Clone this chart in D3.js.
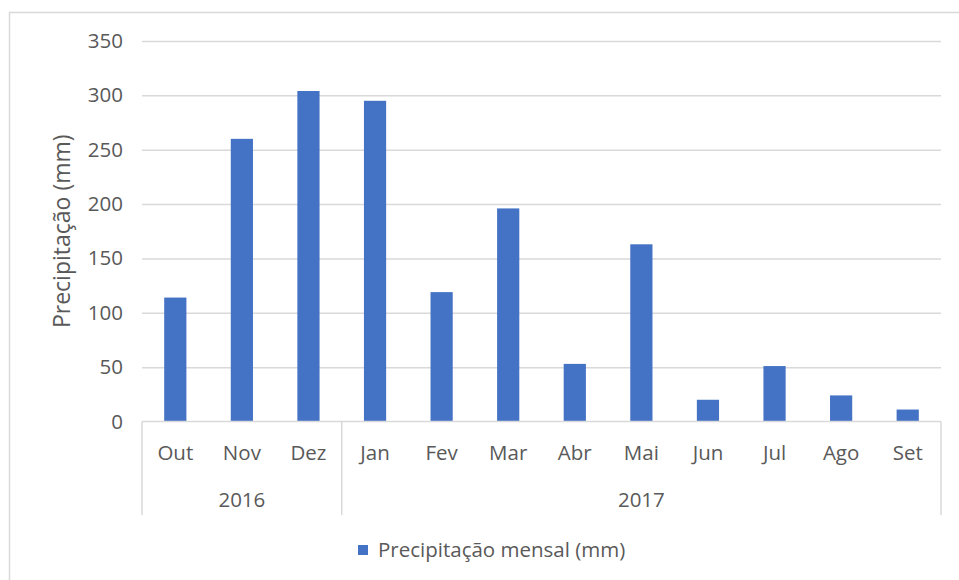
<!DOCTYPE html>
<html>
<head>
<meta charset="utf-8">
<script src="https://cdn.jsdelivr.net/npm/d3@7"></script>
<style>
    body { margin: 0; background: #fff; }
    text { font-family: "Open Sans", "Noto Sans", sans-serif; fill: #595959; }
</style>
</head>
<body>
<div id="chart"></div>
<script>
const months = ["Out", "Nov", "Dez", "Jan", "Fev", "Mar", "Abr", "Mai", "Jun", "Jul", "Ago", "Set"];
const years = [
    { label: "2016", first: "Out", last: "Dez" },
    { label: "2017", first: "Jan", last: "Set" }
];
const precip = [114, 260, 304, 295, 119, 196, 53, 163, 20, 51, 24, 11];
const yTicks = [0, 50, 100, 150, 200, 250, 300, 350];
const seriesName = "Precipitação mensal (mm)";
const yTitle = "Precipitação (mm)";

const width = 959;
const height = 580;
const plotLeft = 142, plotRight = 941, plotTop = 41, plotBottom = 421.5;
const fontSize = 20.5;

const svg = d3.select("#chart")
    .append("svg")
    .attr("width", width)
    .attr("height", height);

// outer chart frame
svg.append("rect")
    .attr("x", 9.5).attr("y", 12.5)
    .attr("width", 970).attr("height", 600)
    .attr("fill", "none")
    .attr("stroke", "#d9d9d9")
    .attr("stroke-width", 1.5);

const x = d3.scaleBand()
    .domain(months)
    .range([plotLeft, plotRight])
    .paddingInner(2 / 3)
    .paddingOuter(1 / 3);

const y = d3.scaleLinear()
    .domain([0, 350])
    .range([plotBottom, plotTop]);

// gridlines + y labels
const yAxis = svg.append("g")
    .attr("transform", "translate(" + plotLeft + ",0)")
    .call(d3.axisLeft(y).tickValues(yTicks).tickSize(-(plotRight - plotLeft)).tickPadding(19));
yAxis.select(".domain").remove();
yAxis.selectAll(".tick line")
    .attr("stroke", d => d === 0 ? "none" : "#d9d9d9")
    .attr("stroke-width", 1.5);
yAxis.selectAll(".tick text")
    .attr("font-size", fontSize)
    .attr("fill", "#595959")
    .style("font-family", "'Open Sans', sans-serif");

// bars
svg.append("g")
    .selectAll("rect")
    .data(precip)
    .join("rect")
    .attr("x", (d, i) => x(months[i]))
    .attr("y", d => y(d))
    .attr("width", x.bandwidth())
    .attr("height", d => y(0) - y(d))
    .attr("fill", "#4472c4");

// category axis
const axisColor = "#d9d9d9";
svg.append("line")
    .attr("x1", plotLeft).attr("x2", plotRight)
    .attr("y1", plotBottom).attr("y2", plotBottom)
    .attr("stroke", axisColor).attr("stroke-width", 1.5);

const step = x.step();
const groupEdges = [plotLeft];
years.forEach(g => {
    groupEdges.push(x(g.last) - x.bandwidth() + step);
});
groupEdges[groupEdges.length - 1] = plotRight;

svg.append("g")
    .selectAll("line")
    .data(groupEdges)
    .join("line")
    .attr("x1", d => d).attr("x2", d => d)
    .attr("y1", plotBottom).attr("y2", 515)
    .attr("stroke", axisColor).attr("stroke-width", 1.5);

svg.append("g")
    .selectAll("text")
    .data(months)
    .join("text")
    .attr("x", d => x(d) + x.bandwidth() / 2)
    .attr("y", 453)
    .attr("dy", "0.35em")
    .attr("text-anchor", "middle")
    .attr("font-size", fontSize)
    .text(d => d);

svg.append("g")
    .selectAll("text")
    .data(years)
    .join("text")
    .attr("x", (d, i) => (groupEdges[i] + groupEdges[i + 1]) / 2)
    .attr("y", 500)
    .attr("dy", "0.35em")
    .attr("text-anchor", "middle")
    .attr("font-size", fontSize)
    .text(d => d.label);

// y title
svg.append("text")
    .attr("transform", "translate(62," + (plotTop + plotBottom) / 2 + ") rotate(-90)")
    .attr("dy", "0.35em")
    .attr("text-anchor", "middle")
    .attr("font-size", 23)
    .text(yTitle);

// legend
const legend = svg.append("g").attr("transform", "translate(358,550)");
legend.append("rect")
    .attr("x", 0).attr("y", -5)
    .attr("width", 10).attr("height", 10)
    .attr("fill", "#4472c4");
legend.append("text")
    .attr("x", 20)
    .attr("dy", "0.35em")
    .attr("font-size", fontSize)
    .text(seriesName);
</script>
</body>
</html>
